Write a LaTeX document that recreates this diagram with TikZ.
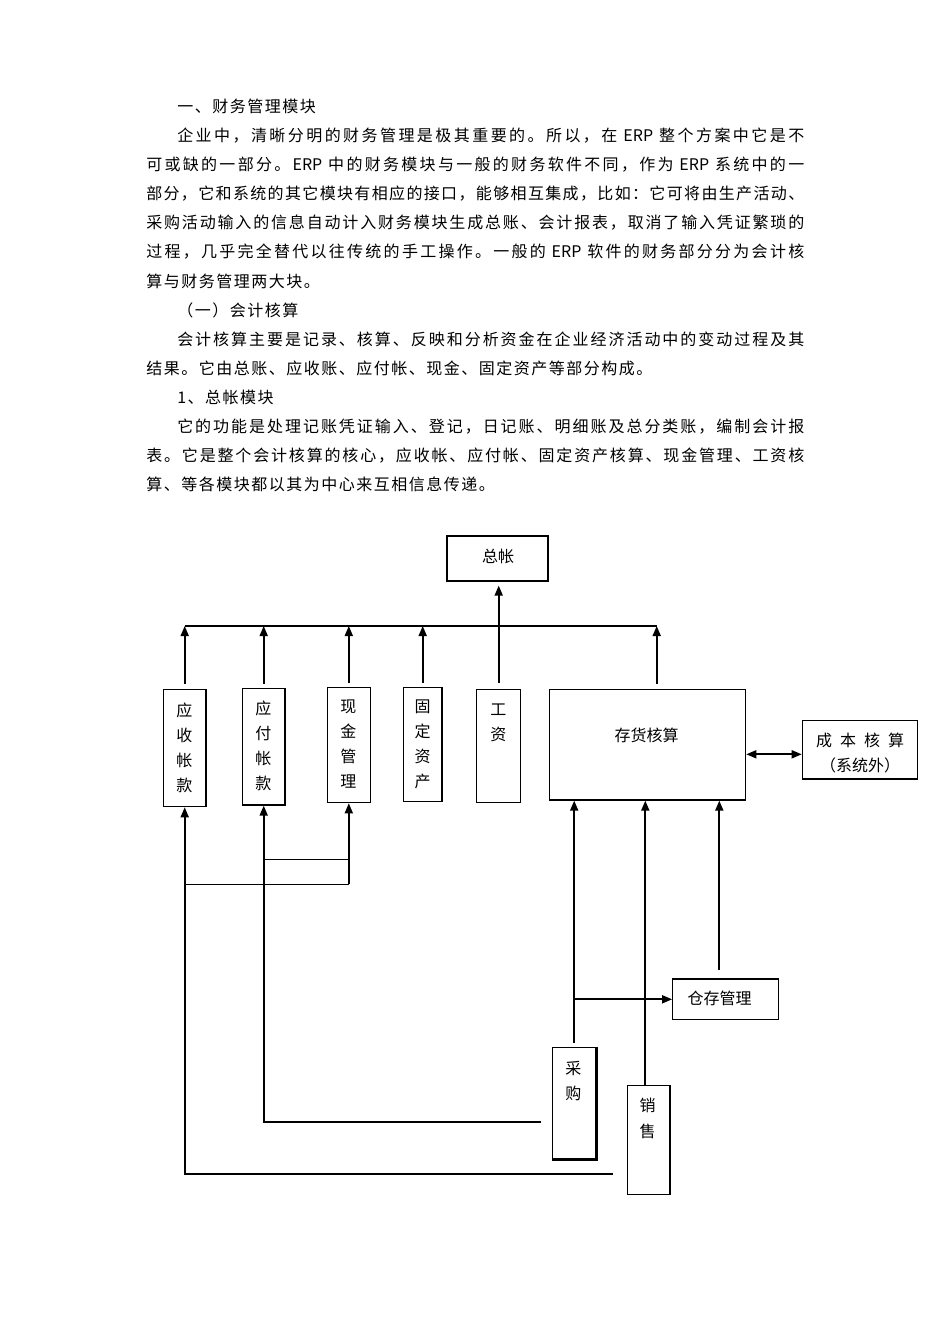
\documentclass[tikz,border=0pt]{standalone}
\usepackage{fontspec}
\setmainfont{Noto Sans CJK SC}
\usetikzlibrary{arrows.meta,calc}
\newlength\px \setlength\px{0.75pt}
\def\jlend{jlendmarker}
\def\jl#1#2{\hbox to #1{\jlA#2\jlend}}
\def\jlA#1{#1\jlB}
\def\jlB#1{\ifx\jlend#1\else\hfil#1\expandafter\jlB\fi}
\tikzset{
  body/.style={anchor=base west, inner sep=0, font=\fontsize{12pt}{14pt}\selectfont},
  box/.style={draw, line width=0.9pt, inner sep=0},
  lbl/.style={inner sep=0, font=\fontsize{12pt}{18.75pt}\selectfont, align=center},
  arr/.style={line width=1.3pt, -{Triangle[length=7.5pt,width=6pt]}},
  dbarr/.style={line width=1.3pt, {Triangle[length=7.5pt,width=6pt]}-{Triangle[length=7.5pt,width=6pt]}},
  thn/.style={line width=0.9pt},
}
\begin{document}
\begin{tikzpicture}[x=0.75pt,y=-0.75pt]
\fill[white] (0,0) rectangle (950,1344);
\useasboundingbox (0,0) rectangle (950,1344);
% ---------- body text ----------
\node[body] (l0) at (177,113) {\jl{138.5\px}{一、财务管理模块}};
\node[body] (l1) at (177,142) {\jl{627\px}{企业中，清晰分明的财务管理是极其重要的。所以，在{\ ERP\ }整个方案中它是不}};
\node[body] (l2) at (146,171) {\jl{658\px}{可或缺的一部分。{ERP\ }中的财务模块与一般的财务软件不同，作为{\ ERP\ }系统中的一}};
\node[body] (l3) at (146,200) {\jl{658\px}{部分，它和系统的其它模块有相应的接口，能够相互集成，比如：它可将由生产活动、}};
\node[body] (l4) at (146,229) {\jl{658\px}{采购活动输入的信息自动计入财务模块生成总账、会计报表，取消了输入凭证繁琐的}};
\node[body] (l5) at (146,258) {\jl{658\px}{过程，几乎完全替代以往传统的手工操作。一般的{\ ERP\ }软件的财务部分分为会计核}};
\node[body] (l6) at (146,287) {\jl{173.5\px}{算与财务管理两大块。}};
\node[body] (l7) at (177,316) {\jl{121\px}{（一）会计核算}};
\node[body] (l8) at (177,345) {\jl{627\px}{会计核算主要是记录、核算、反映和分析资金在企业经济活动中的变动过程及其}};
\node[body] (l9) at (146,374) {\jl{506\px}{结果。它由总账、应收账、应付帐、现金、固定资产等部分构成。}};
\node[body] (l10) at (177,403) {\jl{96.3\px}{1、总帐模块}};
\node[body] (l11) at (177,432) {\jl{627\px}{它的功能是处理记账凭证输入、登记，日记账、明细账及总分类账，编制会计报}};
\node[body] (l12) at (146,461) {\jl{658\px}{表。它是整个会计核算的核心，应收帐、应付帐、固定资产核算、现金管理、工资核}};
\node[body] (l13) at (146,490) {\jl{348.5\px}{算、等各模块都以其为中心来互相信息传递。}};
% ---------- boxes ----------
\node[box, minimum width=101\px, minimum height=45\px] (zz) at (497.5,558.5) {};
\node[box, minimum width=42.7\px, minimum height=117.4\px] (ys) at (184.7,748) {};
\node[box, minimum width=42.7\px, minimum height=116.7\px] (yf) at (263.7,746.7) {};
\node[box, minimum width=43\px, minimum height=115.4\px] (xj) at (348.8,745) {};
\node[box, minimum width=38.7\px, minimum height=114.4\px] (gd) at (422.7,744.5) {};
\node[box, minimum width=44\px, minimum height=113.4\px] (gz) at (498.7,746) {};
\node[box, minimum width=196.4\px, minimum height=110.7\px] (ch) at (647.5,744.7) {};
\node[box, minimum width=115\px, minimum height=58.7\px] (cb) at (859.8,749.7) {};
\node[box, minimum width=106\px, minimum height=40.7\px] (cc) at (725.7,999.3) {};
\node[box, minimum width=43.7\px, minimum height=111.7\px] (cg) at (574.2,1103.2) {};
\node[box, minimum width=42.7\px, minimum height=108.6\px] (xs) at (648.7,1140) {};
\draw[line width=1.8pt] (cg.north east) -- (cg.south east) -- (cg.south west);
% ---------- labels ----------
\node[lbl] (zzt) at (498,556) {总帐};
\node[lbl] (yst) at (184.3,747.5) {应\\收\\帐\\款};
\node[lbl] (yft) at (263.3,746.3) {应\\付\\帐\\款};
\node[lbl] (xjt) at (348.3,744.5) {现\\金\\管\\理};
\node[lbl] (gdt) at (422.7,744.5) {固\\定\\资\\产};
\node[lbl] (gzt) at (498.3,722.5) {工\\资};
\node[lbl] (cht) at (646.7,735.7) {存货核算};
\node[lbl] (cbt) at (860,753.3) {\jl{88\px}{成本核算}\\（系统外）};
\node[lbl] (cct) at (719.5,998) {仓存管理};
\node[lbl] (cgt) at (573.3,1080.8) {采\\购};
\node[lbl, font=\fontsize{12pt}{20pt}\selectfont] (xst) at (647.7,1118.3) {销\\售};
% ---------- top connectors ----------
\coordinate (busL) at (ys.north |- 0,626);
\coordinate (busR) at (656.7,626);
\draw[thn] (busL) -- (busR);
\draw[arr] ($(ys.north)+(0,-5)$) -- (busL);
\draw[arr] ($(yf.north)+(0,-4)$) -- (yf.north |- busL);
\draw[arr] ($(xj.north)+(0,-4)$) -- (xj.north |- busL);
\draw[arr] ($(gd.north)+(0,-4)$) -- (gd.north |- busL);
\draw[arr] ($(gz.north)+(0,-6)$) -- ($(gz.north |- zz.south)+(0,4)$);
\draw[arr] ($(busR |- ch.north)+(0,-5)$) -- (busR);
\coordinate (dbl) at (0,754.3);
\draw[dbarr] (ch.east |- dbl) -- (cb.west |- dbl);
% ---------- bottom connectors ----------
\coordinate (xsL) at (613.3,1174.3);
\draw[arr] (xsL) -| (ys.south);
\coordinate (cgL) at (541,1121.7);
\draw[arr] (cgL) -| (yf.south);
\coordinate (j1) at (xj.south |- 0,859.3);
\coordinate (j2) at (xj.south |- 0,884.3);
\draw[arr] (j2) -- (xj.south);
\draw[thn] (yf.south |- j1) -- (j1);
\draw[thn] (ys.south |- j2) -- (j2);
\draw[arr] ($(cg.north)+(0,-4)$) -- (cg.north |- ch.south);
\draw[arr] (cg.north |- cc.west) -- (cc.west);
\coordinate (xsT) at ($(xs.north)+(-3.4,0)$);
\draw[arr] (xsT) -- (xsT |- ch.south);
\coordinate (ccT) at (719.3,970);
\draw[arr] (ccT) -- (ccT |- ch.south);
\end{tikzpicture}
\end{document}
